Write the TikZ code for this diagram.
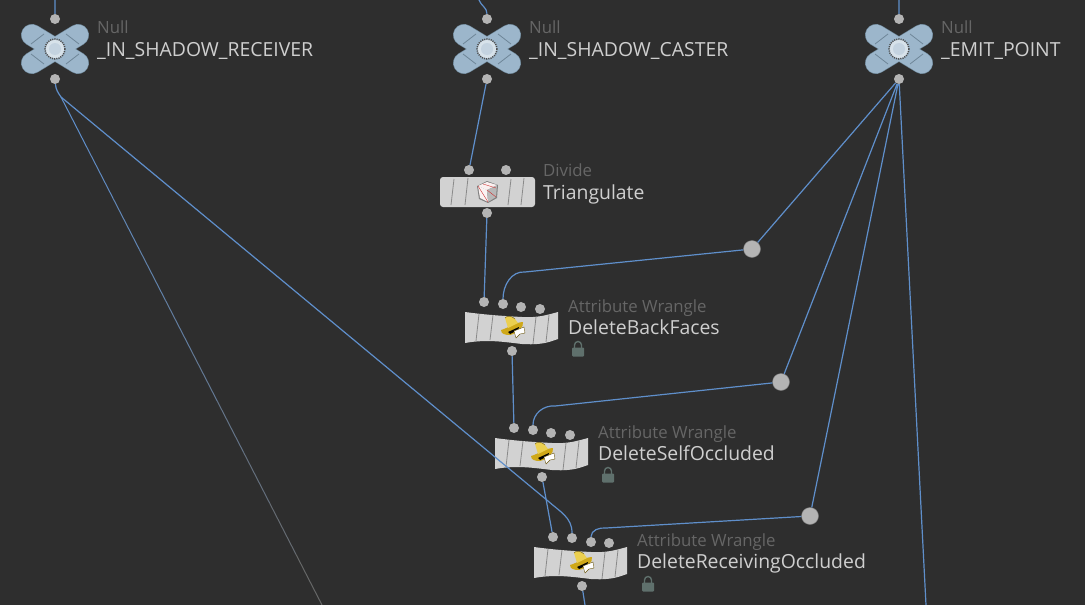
\documentclass[tikz,border=0pt]{standalone}
\usepackage{fontspec}
\usetikzlibrary{calc}
\setmainfont{Open Sans}
\definecolor{bgcol}{HTML}{2E2E2E}
\definecolor{wirecol}{HTML}{5F8FCB}
\definecolor{fadecol}{HTML}{666666}
\definecolor{dotcol}{HTML}{B4B4B4}
\definecolor{typecol}{HTML}{666666}
\definecolor{namecol}{HTML}{CFCFCF}
\definecolor{bodycol}{HTML}{D2D2D2}
\definecolor{stripecol}{HTML}{8A8A8A}
\definecolor{nullcol}{HTML}{9CB6CB}
\definecolor{nulledge}{HTML}{6E8698}
\definecolor{lockcol}{HTML}{5F706C}
\definecolor{hatcol}{HTML}{CFA818}
\definecolor{crowncol}{HTML}{EBCF50}
\newcommand{\pn}{\node[circle, fill=dotcol, inner sep=0pt, minimum size=10pt]}
\newcommand{\hn}{\node[circle, fill=dotcol, draw=dotcol!70!black, inner sep=0pt, minimum size=17pt]}
\newcommand{\tn}{\node[anchor=base west, inner sep=0pt, text=typecol, font=\fontsize{16.8}{18}\selectfont]}
\newcommand{\nn}{\node[anchor=base west, inner sep=0pt, text=namecol, font=\fontsize{19.4}{22}\selectfont]}
\newcommand{\lockn}{\node[rectangle, rounded corners=1pt, fill=lockcol, inner sep=0pt, minimum width=12pt, minimum height=9pt]}
\tikzset{
    wire/.style={draw=wirecol, line width=1.2pt},
    nullicon/.pic={
        \draw[nulledge, line width=22pt, line cap=round] (-23,-14) -- (23,14) (-23,14) -- (23,-14);
        \draw[nullcol, line width=20.8pt, line cap=round] (-23,-14) -- (23,14) (-23,14) -- (23,-14);
        \draw[nulledge, line width=0.8pt]
            (-24,-5) -- (-11,-15) (24,-5) -- (11,-15)
            (-24,5) -- (-11,15) (24,5) -- (11,15);
        \fill[nullcol!40!white] (0,0) circle (9.5);
        \draw[black!70, line width=1.5pt, dash pattern=on 1.1pt off 1.1pt] (0,0) circle (10);
        \fill[nullcol!60!white] (0,0) circle (6);
    },
    stripes/.pic={
        \draw[stripecol, line width=0.8pt]
            (-33,-13) -- (-36,13) (-19,-14) -- (-22,13)
            (24,-13) -- (21,13) (37,-14) -- (34,13);
    },
    divideicon/.pic={
        \fill[black!50] (-10,-6) -- (0,-11) -- (11,-7) -- (10,6) -- (1,11) -- (-8,7) -- cycle;
        \fill[black!30!red!6!white] (-9,-6) -- (0,-10) -- (10,-7) -- (0,-2) -- cycle;
        \fill[black!40!red!5!white] (-9,-6) -- (0,-2) -- (1,10) -- (-7,6) -- cycle;
        \fill[black!28] (0,-2) -- (10,-7) -- (9,5) -- (1,10) -- cycle;
        \draw[red!60!gray, line width=0.4pt] (-9,-6) -- (1,10) (0,-2) -- (9,5) (-4,-8) -- (9,-4);
    },
    wrangleicon/.pic={
        \fill[hatcol] (-11,3) .. controls (-6,2) and (4,-5) .. (11,-5) .. controls (12,0) and (6,6) .. (-2,8) .. controls (-7,8) and (-11,7) .. (-11,3) -- cycle;
        \fill[crowncol] (-7,-9) .. controls (-5,-12) and (0,-11) .. (3,-8) -- (6,-4) -- (-4,1) -- cycle;
        \draw[hatcol!50!black, line width=0.4pt] (-7,-9) .. controls (-5,-12) and (0,-11) .. (3,-8);
        \fill[black] (-4,5) -- (7,0) -- (6,3) -- (-2,7) -- cycle;
        \fill[white] (2,4) -- (12,0) -- (13,6) -- (8,7) -- (4,11) -- cycle;
        \draw[hatcol!50!black, line width=0.4pt] (2,4) -- (12,0) -- (13,6) -- (8,7) -- (4,11) -- cycle;
    },
    lockicon/.pic={
        \draw[lockcol, line width=1.4pt] (-3.5,0) -- (-3.5,-3) arc (180:360:3.5) -- (3.5,0);
    },
}
% flag body of the wrangle nodes, #1 is the centre
\newcommand{\wrangle}[1]{
    \fill[bodycol, shift={#1}] (-47,-15) .. controls (-25,-12) and (-8,-11) .. (10,-10)
        .. controls (25,-9) and (35,-12) .. (46,-15) -- (46,12)
        .. controls (35,16) and (28,18) .. (10,17) .. controls (-8,15) and (-25,12) .. (-47,16) -- cycle;
    \draw[stripecol, line width=0.8pt, shift={#1}]
        (-33,-13) -- (-36,14) (-19,-12) -- (-22,13)
        (24,-10) -- (21,17) (37,-12) -- (34,15);
}
\begin{document}
\begin{tikzpicture}[x=1pt, y=-1pt]
    \fill[bgcol] (0,0) rectangle (1085,605);
    \useasboundingbox (0,0) rectangle (1085,605);

    % null nodes
    \pic at (55,49) {nullicon};
    \pic at (487,49) {nullicon};
    \pic at (899,49) {nullicon};
    \pn (rin) at (55,19) {};
    \pn (rout) at (55,79) {};
    \pn (cin) at (487,19) {};
    \pn (cout) at (487,79) {};
    \pn (ein) at (899,19) {};
    \pn (eout) at (899,79) {};
    \tn (rtype) at (97,33) {Null};
    \nn (rname) at (97,56) {\_IN\_SHADOW\_RECEIVER};
    \tn (ctype) at (529,33) {Null};
    \nn (cname) at (529,56) {\_IN\_SHADOW\_CASTER};
    \tn (etype) at (941,33) {Null};
    \nn (ename) at (941,56) {\_EMIT\_POINT};

    % divide
    \fill[bodycol, rounded corners=3pt] (440,177) rectangle (535,207);
    \pic at (487,192) {stripes};
    \pic at (487,192) {divideicon};
    \pn (da) at (469,170) {};
    \pn (db) at (506,170) {};
    \pn (dout) at (487,213) {};
    \tn (dtype) at (543,176) {Divide};
    \nn (dname) at (543,199) {Triangulate};

    % wrangles
    \wrangle{(512,327)}
    \pic at (512,327) {wrangleicon};
    \pn (aa) at (484,302) {};
    \pn (ab) at (503,304) {};
    \pn (ac) at (521,307) {};
    \pn (ad) at (540,309) {};
    \pn (aout) at (512,351) {};
    \tn (atype) at (568,312) {Attribute Wrangle};
    \nn (aname) at (568,334) {DeleteBackFaces};
    \lockn (alock) at (578,352) {};
    \pic at (578,348) {lockicon};

    \wrangle{(542,453)}
    \pic at (542,453) {wrangleicon};
    \pn (ba) at (514,428) {};
    \pn (bb) at (533,430) {};
    \pn (bc) at (551,433) {};
    \pn (bd) at (570,435) {};
    \pn (bout) at (542,477) {};
    \tn (btype) at (598,438) {Attribute Wrangle};
    \nn (bname) at (598,460) {DeleteSelfOccluded};
    \lockn (block) at (608,478) {};
    \pic at (608,474) {lockicon};

    \wrangle{(581,562)}
    \pic at (581,562) {wrangleicon};
    \pn (ca) at (553,537) {};
    \pn (cb) at (572,538) {};
    \pn (cc) at (591,542) {};
    \pn (cd) at (609,543) {};
    \pn (cdout) at (582,586) {};
    \tn (cdtype) at (637,546) {Attribute Wrangle};
    \nn (cdname) at (637,568) {DeleteReceivingOccluded};
    \lockn (cdlock) at (648,587) {};
    \pic at (648,583) {lockicon};

    % dots on the way
    \hn (ha) at (752,249) {};
    \hn (hb) at (781,382) {};
    \hn (hc) at (810,516) {};

    % free ends
    \coordinate (rtop) at (55,0);
    \coordinate (ctop) at (479,0);
    \coordinate (etop) at (899,0);
    \coordinate (rsplit) at (61,97);
    \coordinate (rfar) at (322,605);
    \coordinate (efar) at (926,605);
    \coordinate (cdfar) at (585,605);
    \coordinate (rbend) at (548,501);
    \coordinate (abend) at (525,272);
    \coordinate (bbend) at (555,406);
    \coordinate (cdbend) at (606,528);

    \draw[wire]
        (rtop) -- (rin)
        (ctop) to[out=-70, in=90] (cin)
        (etop) -- (ein)
        (cout) -- (da)
        (dout) -- (aa)
        (aout) -- (ba)
        (bout) -- (ca)
        (cdout) -- (cdfar)
        (eout) -- (ha)
        (eout) -- (hb)
        (eout) -- (hc)
        (eout) -- (efar)
        ;

    \draw[wire]
        (ha) -- (abend) to[out=175, in=90] (ab)
        (hb) -- (bbend) to[out=175, in=90] (bb)
        (hc) -- (cdbend) to[out=175, in=90] (cc)
        (rout) to[out=-85, in=125] (rsplit) -- (rbend) to[out=-42, in=90] (cb)
        ;

    % wire that fades out on its way down
    \foreach \s [evaluate=\s as \m using 100-11*\s, evaluate=\s as \e using \s+1] in {0,...,9}
        \draw[wirecol!\m!fadecol, line width=1pt] ($(rsplit)!\s/10!(rfar)$) -- ($(rsplit)!\e/10!(rfar)$);
\end{tikzpicture}
\end{document}
